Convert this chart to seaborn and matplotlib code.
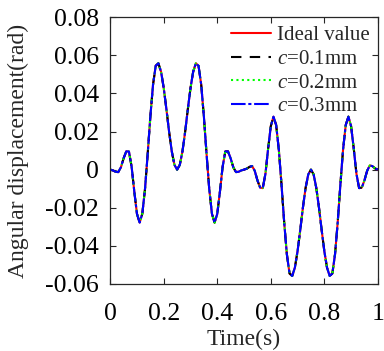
import numpy as np
import pandas as pd
import matplotlib
matplotlib.use("Agg")
import matplotlib.pyplot as plt
import seaborn as sns

# Time axis (s) and angular displacement (rad), sampled every 0.01 s
time_s = [round(0.01 * i, 2) for i in range(101)]

displacement_ideal = [
    0.0000, -0.0004, -0.0011, -0.0013, 0.0012, 0.0059, 0.0096, 0.0095, 0.0015, -0.0115,
    -0.0232, -0.0278, -0.0231, -0.0102, 0.0082, 0.0279, 0.0446, 0.0545, 0.0558, 0.0514,
    0.0428, 0.0317, 0.0199, 0.0096, 0.0025, 0.0000, 0.0025, 0.0096, 0.0199, 0.0317,
    0.0428, 0.0514, 0.0558, 0.0545, 0.0446, 0.0279, 0.0082, -0.0102, -0.0231, -0.0278,
    -0.0232, -0.0115, 0.0015, 0.0095, 0.0096, 0.0059, 0.0012, -0.0013, -0.0011, -0.0004,
    0.0000, 0.0005, 0.0014, 0.0019, -0.0006, -0.0056, -0.0094, -0.0097, -0.0022, 0.0110,
    0.0228, 0.0278, 0.0234, 0.0105, -0.0078, -0.0276, -0.0444, -0.0545, -0.0558, -0.0514,
    -0.0428, -0.0317, -0.0199, -0.0096, -0.0025, 0.0000, -0.0025, -0.0096, -0.0199, -0.0317,
    -0.0428, -0.0514, -0.0558, -0.0545, -0.0444, -0.0276, -0.0078, 0.0105, 0.0234, 0.0278,
    0.0228, 0.0110, -0.0022, -0.0097, -0.0094, -0.0056, -0.0006, 0.0022, 0.0018, 0.0006,
    0.0000,
]
# Measured responses for the three clearances coincide with the ideal curve
displacement_c01 = list(displacement_ideal)
displacement_c02 = list(displacement_ideal)
displacement_c03 = list(displacement_ideal)

series_labels = ["Ideal value", r"$c$=0.1mm", r"$c$=0.2mm", r"$c$=0.3mm"]
x_ticks = [0, 0.2, 0.4, 0.6, 0.8, 1]
y_ticks = [-0.06, -0.04, -0.02, 0, 0.02, 0.04, 0.06, 0.08]

sns.set_style("ticks")
plt.rcParams["font.family"] = ["Liberation Serif", "DejaVu Serif"]
plt.rcParams["mathtext.fontset"] = "custom"
plt.rcParams["mathtext.it"] = "Liberation Serif:italic"
plt.rcParams["mathtext.rm"] = "Liberation Serif"
plt.rcParams["axes.unicode_minus"] = False

fig = plt.figure(figsize=(3.84, 3.51), dpi=100)
ax = fig.add_axes([0.287, 0.191, 0.697, 0.760])

df = pd.DataFrame({
    "t": time_s,
    "ideal": displacement_ideal,
    "c01": displacement_c01,
    "c02": displacement_c02,
    "c03": displacement_c03,
})

styles = [
    ("ideal", "#ff0000", "-"),
    ("c01", "#000000", (0, (5, 4))),
    ("c02", "#00ff00", (0, (1, 1.6))),
    ("c03", "#0000ff", (0, (7, 1.3, 1.5, 1.3))),
]
for (col, color, ls), lab in zip(styles, series_labels):
    sns.lineplot(data=df, x="t", y=col, ax=ax, color=color, linestyle=ls,
                 linewidth=1.5, label=lab, estimator=None, sort=False)

ax.set_xlim(0, 1)
ax.set_ylim(-0.06, 0.08)
ax.set_xticks(x_ticks)
ax.set_xticklabels([f"{v:g}" for v in x_ticks])
ax.set_yticks(y_ticks)
ax.set_yticklabels([f"{v:g}" for v in y_ticks])
ax.tick_params(direction="in", length=4, width=0.8, top=True, right=True,
               labelsize=18.5, colors="#262626", labelcolor="black")
ax.tick_params(axis="x", pad=14)
ax.tick_params(axis="y", pad=8)
for sp in ax.spines.values():
    sp.set_visible(True)
    sp.set_linewidth(0.9)
    sp.set_color("#262626")

ax.set_xlabel("Time(s)", fontsize=17)
ax.set_ylabel("Angular displacement(rad)", fontsize=17)
ax.xaxis.set_label_coords(0.5, -0.17)
ax.yaxis.set_label_coords(-0.305, 0.5)

leg = ax.legend(loc="upper right", frameon=False, fontsize=15,
                handlelength=1.9, handletextpad=0.3, labelspacing=0.2,
                borderaxespad=0.0, bbox_to_anchor=(1.0, 1.0))

fig.savefig("out.png", dpi=100)
